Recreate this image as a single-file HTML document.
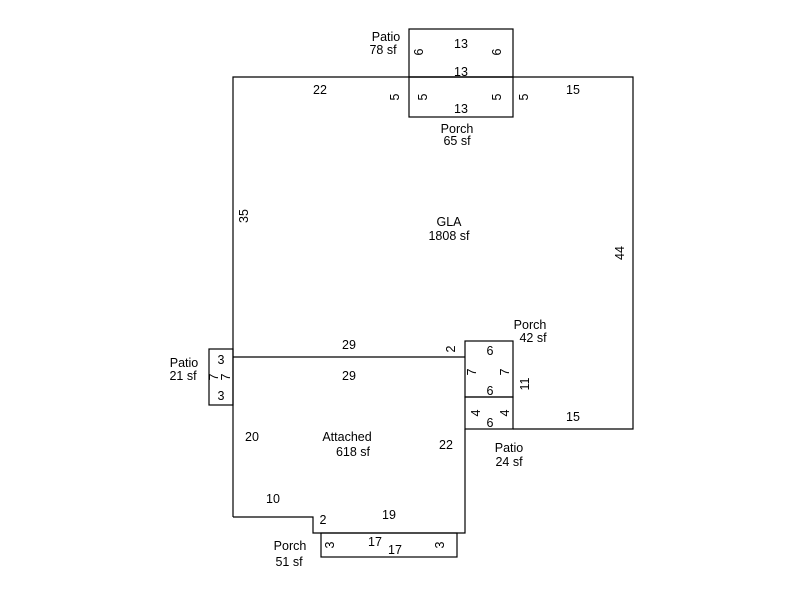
<!DOCTYPE html>
<html><head><meta charset="utf-8"><style>
html,body{margin:0;padding:0;background:#fff;}
svg{display:block;}
text{font-family:"Liberation Sans",Arial,sans-serif;font-size:12.5px;fill:#000;}
</style></head><body>
<svg width="800" height="600" viewBox="0 0 800 600" xmlns="http://www.w3.org/2000/svg">
<g fill="none" stroke="#000" stroke-width="1.2">
<!-- GLA -->
<polyline points="233,517 233,77 633,77 633,429 513,429"/>
<line x1="233" y1="357" x2="465" y2="357"/>
<!-- Patio top -->
<rect x="409" y="29" width="104" height="48"/>
<!-- Porch top -->
<rect x="409" y="77" width="104" height="40"/>
<!-- Porch 42 -->
<rect x="465" y="341" width="48" height="56"/>
<!-- Patio 24 -->
<rect x="465" y="397" width="48" height="32"/>
<!-- Attached -->
<polyline points="233,517 313,517 313,533 465,533 465,429"/>
<!-- Porch bottom -->
<rect x="321" y="533" width="136" height="24"/>
<!-- Patio left -->
<rect x="209" y="349" width="24" height="56"/>
</g>
<g text-anchor="middle">
<text x="386" y="41">Patio</text><text x="383" y="54">78 sf</text>
<text x="461" y="48">13</text><text x="461" y="76">13</text>
<text x="461" y="113">13</text>
<text x="457" y="133">Porch</text><text x="457" y="145">65 sf</text>
<text x="320" y="94">22</text><text x="573" y="94">15</text>
<text x="449" y="226">GLA</text><text x="449" y="240">1808 sf</text>
<text x="530" y="329">Porch</text><text x="533" y="342">42 sf</text>
<text x="349" y="349">29</text><text x="349" y="380">29</text>
<text x="490" y="355">6</text><text x="490" y="395">6</text><text x="490" y="427">6</text>
<text x="573" y="421">15</text>
<text x="184" y="367">Patio</text><text x="183" y="380">21 sf</text>
<text x="221" y="364">3</text><text x="221" y="400">3</text>
<text x="252" y="441">20</text>
<text x="347" y="441">Attached</text><text x="353" y="456">618 sf</text>
<text x="446" y="449">22</text>
<text x="509" y="452">Patio</text><text x="509" y="466">24 sf</text>
<text x="273" y="503">10</text>
<text x="323" y="524">2</text>
<text x="389" y="519">19</text>
<text x="375" y="546">17</text><text x="395" y="554">17</text>
<text x="290" y="550">Porch</text><text x="289" y="566">51 sf</text>
</g>
<g text-anchor="middle" dominant-baseline="central">
<text transform="translate(419,52) rotate(-90)">6</text>
<text transform="translate(497,52) rotate(-90)">6</text>
<text transform="translate(395,97) rotate(-90)">5</text>
<text transform="translate(423,97) rotate(-90)">5</text>
<text transform="translate(497,97) rotate(-90)">5</text>
<text transform="translate(524,97) rotate(-90)">5</text>
<text transform="translate(244,216) rotate(-90)">35</text>
<text transform="translate(620,253) rotate(-90)">44</text>
<text transform="translate(451,349) rotate(-90)">2</text>
<text transform="translate(472,372) rotate(-90)">7</text>
<text transform="translate(505,372) rotate(-90)">7</text>
<text transform="translate(525,384) rotate(-90)">11</text>
<text transform="translate(476,413) rotate(-90)">4</text>
<text transform="translate(505,413) rotate(-90)">4</text>
<text transform="translate(214,377) rotate(-90)">7</text>
<text transform="translate(226,377) rotate(-90)">7</text>
<text transform="translate(330,545) rotate(-90)">3</text>
<text transform="translate(440,545) rotate(-90)">3</text>
</g>
</svg>
</body></html>
